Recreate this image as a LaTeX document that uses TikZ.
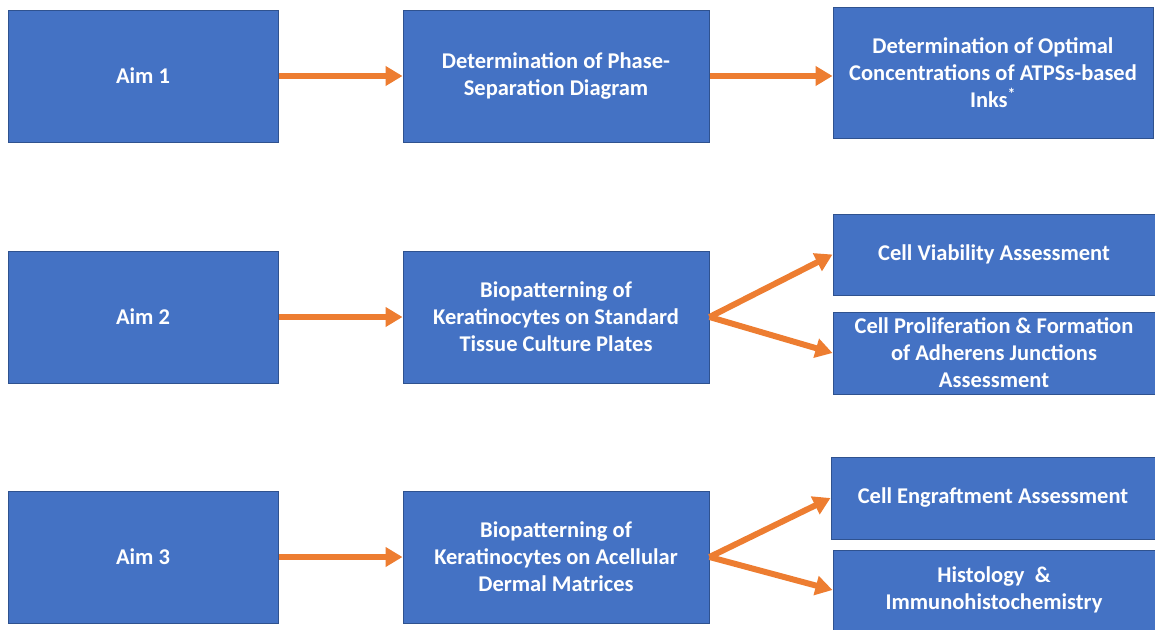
\documentclass[tikz,border=0pt]{standalone}
\usepackage{fontspec}
\setmainfont{Carlito}
\usetikzlibrary{arrows.meta}
\definecolor{boxblue}{HTML}{4472C4}
\definecolor{boxedge}{HTML}{2F528F}
\definecolor{arroworange}{HTML}{ED7D31}
\begin{document}
\begin{tikzpicture}[x=1pt,y=-1pt,
  stagebox/.style={draw=boxedge, line width=1pt, fill=boxblue, text=white,
    font=\bfseries\fontsize{22.5}{27}\selectfont, align=center, inner sep=0pt},
  aimbox/.style={stagebox, minimum width=270pt, minimum height=132pt},
  midbox/.style={stagebox, minimum width=306pt, minimum height=132pt},
  outbox/.style={stagebox, minimum width=322pt, minimum height=81pt},
  flow/.style={draw=arroworange, line width=6pt, -{Triangle[length=17pt,width=19pt]}}]
\useasboundingbox (0,0) rectangle (1155,629);
% aim 1
\node[aimbox] (aim1) at (143,76) {Aim 1};
\node[midbox] (phase) at (556,76) {Determination of Phase-\\Separation Diagram};
\node[stagebox, minimum width=320pt, minimum height=131pt] (optimal) at (993,72.5)
  {Determination of Optimal\\Concentrations of ATPSs-based\\Inks\textsuperscript{*}};
\draw[flow] (aim1) -- (phase);
\draw[flow] (phase.east) -- (phase.east -| optimal.west);
% aim 2
\node[aimbox] (aim2) at (143,317) {Aim 2};
\node[midbox] (plates) at (556,317) {Biopatterning of\\Keratinocytes on Standard\\Tissue Culture Plates};
\node[outbox] (viability) at (994,254.5) {Cell Viability Assessment};
\node[outbox, minimum height=82pt] (junctions) at (994,353)
  {Cell Proliferation \& Formation\\of Adherens Junctions\\Assessment};
\draw[flow] (aim2) -- (plates);
\draw[flow] (plates.east) -- (viability.west);
\draw[flow] (plates.east) -- (junctions.west);
% aim 3
\node[aimbox] (aim3) at (143,557) {Aim 3};
\node[midbox] (matrices) at (556,557) {Biopatterning of\\Keratinocytes on Acellular\\Dermal Matrices};
\node[outbox, minimum width=324pt, minimum height=82pt] (engraft) at (993,498) {Cell Engraftment Assessment};
\node[outbox, minimum height=80pt] (histo) at (994,590) {Histology\ \ \&\\Immunohistochemistry};
\draw[flow] (aim3) -- (matrices);
\draw[flow] (matrices.east) -- (engraft.west);
\draw[flow] (matrices.east) -- (histo.west);
\end{tikzpicture}
\end{document}
